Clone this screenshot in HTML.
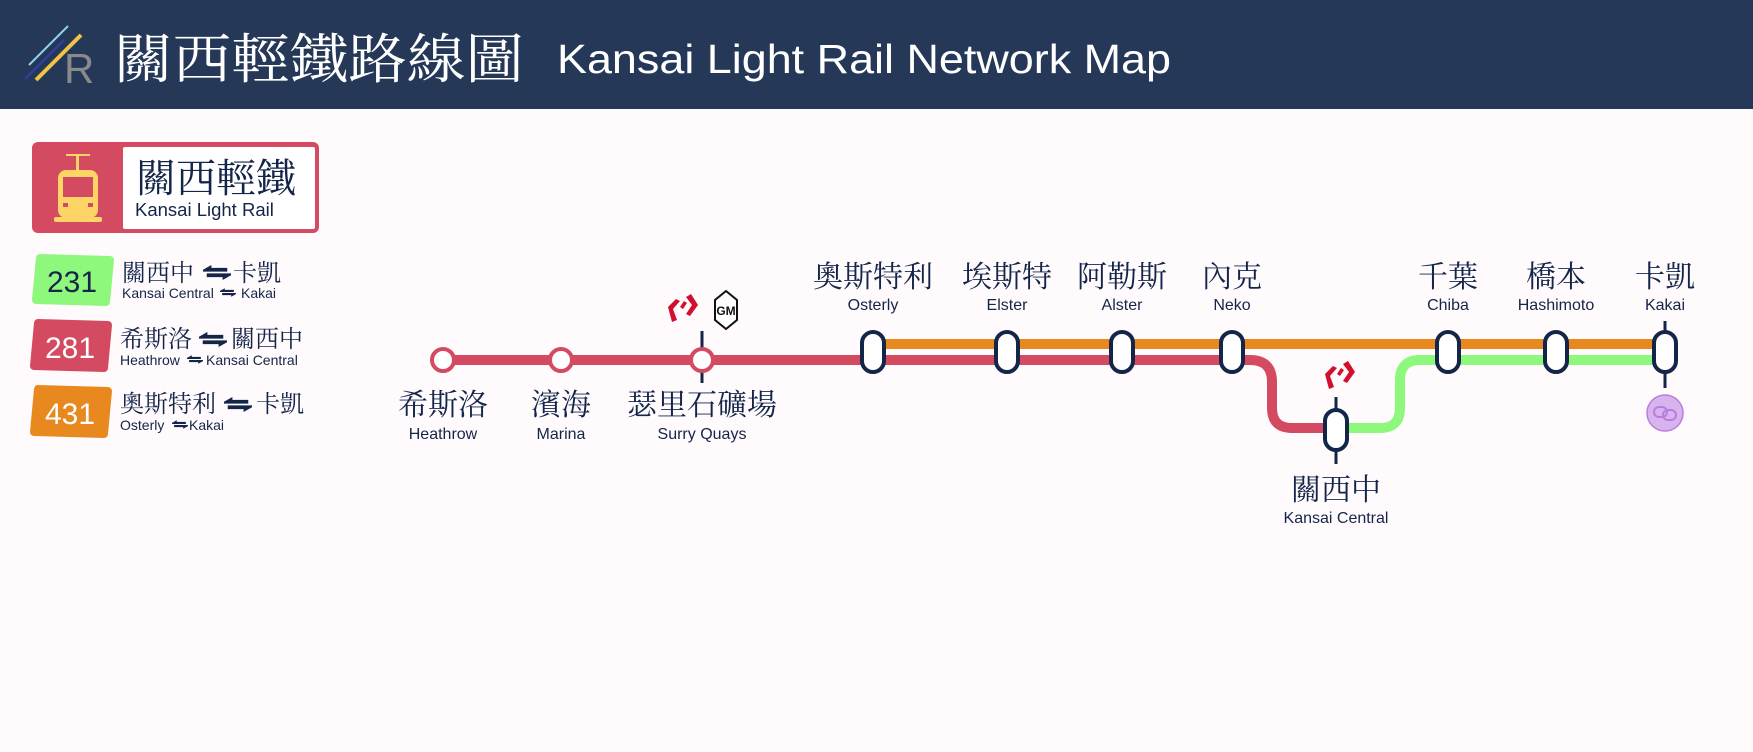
<!DOCTYPE html>
<html><head><meta charset="utf-8"><style>
html,body{margin:0;padding:0;background:#fffafc;}
svg{display:block}
.zh{font-family:"Noto Serif CJK SC","Liberation Serif",serif;fill:#14254a}
.en{font-family:"Liberation Sans",sans-serif;fill:#14254a}
</style></head><body>
<svg width="1753" height="752" viewBox="0 0 1753 752" xmlns="http://www.w3.org/2000/svg">
<rect width="1753" height="752" fill="#fffafc"/>
<rect width="1753" height="109" fill="#253858"/>
<!-- logo -->
<line x1="29" y1="65" x2="68" y2="26" stroke="#8fd0f0" stroke-width="2"/>
<line x1="25" y1="79" x2="64" y2="40" stroke="#2f3fa8" stroke-width="2"/>
<line x1="36" y1="80" x2="81" y2="35" stroke="#f2c443" stroke-width="4"/>
<text x="64" y="83" font-family="Liberation Sans,sans-serif" font-size="42" fill="#8a8a8a">R</text>
<text x="114" y="78" class="zh" font-size="54" textLength="410" lengthAdjust="spacingAndGlyphs" style="fill:#fff">關西輕鐵路線圖</text>
<text x="557" y="73" font-family="Liberation Sans,sans-serif" font-size="41" textLength="614" lengthAdjust="spacingAndGlyphs" fill="#fff">Kansai Light Rail Network Map</text>

<!-- badge -->
<rect x="32" y="142" width="287" height="91" rx="6" fill="#d44a60"/>
<rect x="123" y="147" width="192" height="82" rx="2" fill="#fff"/>
<g fill="#fdd567">
<rect x="58" y="170" width="40" height="48" rx="8"/>
<rect x="76" y="156" width="3" height="14"/>
<rect x="66" y="154" width="24" height="2"/>
<rect x="54" y="217" width="48" height="5" rx="2"/>
</g>
<rect x="63" y="177" width="30" height="20" fill="#d44a60"/>
<rect x="63" y="203" width="5" height="4" fill="#d44a60"/><rect x="88" y="203" width="5" height="4" fill="#d44a60"/>
<text x="136" y="192" class="zh" font-size="40">關西輕鐵</text>
<text x="135" y="216" class="en" font-size="18.5">Kansai Light Rail</text>

<!-- route list -->
<defs>
<symbol id="arr" viewBox="0 0 30 16"><path d="M0 5 L9 0 L9 3 L26 3 L26 7 L0 7 Z M30 11 L21 16 L21 13 L4 13 L4 9 L30 9 Z" fill="#14254a"/></symbol>
</defs>
<path d="M40 258 L110 260 L106 302 L36 300 Z" fill="#8ef87c" stroke="#8ef87c" stroke-width="8" stroke-linejoin="round"/>
<text x="72" y="292" text-anchor="middle" class="en" font-size="30">231</text>
<text x="122" y="281" class="zh" font-size="24">關西中</text>
<use href="#arr" x="203" y="265" width="28" height="15"/>
<text x="233" y="281" class="zh" font-size="24">卡凱</text>
<text x="122" y="298" class="en" font-size="14">Kansai Central</text>
<use href="#arr" x="220" y="288" width="16" height="9"/>
<text x="241" y="298" class="en" font-size="14">Kakai</text>

<path d="M38 323 L108 325 L104 368 L34 366 Z" fill="#d44a60" stroke="#d44a60" stroke-width="8" stroke-linejoin="round"/>
<text x="70" y="358" text-anchor="middle" class="en" font-size="30" style="fill:#fff">281</text>
<text x="120" y="347" class="zh" font-size="24">希斯洛</text>
<use href="#arr" x="199" y="332" width="28" height="15"/>
<text x="231" y="347" class="zh" font-size="24">關西中</text>
<text x="120" y="365" class="en" font-size="14">Heathrow</text>
<use href="#arr" x="187" y="355" width="16" height="9"/>
<text x="206" y="365" class="en" font-size="14">Kansai Central</text>

<path d="M38 389 L108 391 L104 434 L34 432 Z" fill="#e8891f" stroke="#e8891f" stroke-width="8" stroke-linejoin="round"/>
<text x="70" y="424" text-anchor="middle" class="en" font-size="30" style="fill:#fff">431</text>
<text x="120" y="412" class="zh" font-size="24">奧斯特利</text>
<use href="#arr" x="224" y="397" width="28" height="15"/>
<text x="256" y="412" class="zh" font-size="24">卡凱</text>
<text x="120" y="430" class="en" font-size="14">Osterly</text>
<use href="#arr" x="172" y="420" width="16" height="9"/>
<text x="189" y="430" class="en" font-size="14">Kakai</text>

<!-- lines -->
<line x1="873" y1="344" x2="1665" y2="344" stroke="#e8891f" stroke-width="10"/>
<path d="M1665 360 L1420 360 Q1400 360 1400 380 L1400 408 Q1400 428 1380 428 L1336 428" fill="none" stroke="#8ef87c" stroke-width="10"/>
<path d="M443 360 L1250 360 Q1272 360 1272 382 L1272 408 Q1272 428 1292 428 L1336 428" fill="none" stroke="#d44a60" stroke-width="10"/>

<!-- ticks -->
<line x1="702" y1="331" x2="702" y2="383" stroke="#14254a" stroke-width="3"/>
<line x1="1336" y1="397" x2="1336" y2="464" stroke="#14254a" stroke-width="3"/>
<line x1="1665" y1="321" x2="1665" y2="388" stroke="#14254a" stroke-width="3"/>

<!-- circle stations -->
<g fill="#fff" stroke="#d44a60" stroke-width="4">
<circle cx="443" cy="360" r="11"/><circle cx="561" cy="360" r="11"/><circle cx="702" cy="360" r="11"/>
</g>
<!-- pill stations -->
<g fill="#fff" stroke="#14254a" stroke-width="4">
<rect x="862" y="332" width="22" height="40" rx="11"/>
<rect x="996" y="332" width="22" height="40" rx="11"/>
<rect x="1111" y="332" width="22" height="40" rx="11"/>
<rect x="1221" y="332" width="22" height="40" rx="11"/>
<rect x="1437" y="332" width="22" height="40" rx="11"/>
<rect x="1545" y="332" width="22" height="40" rx="11"/>
<rect x="1654" y="332" width="22" height="40" rx="11"/>
<rect x="1325" y="410" width="22" height="40" rx="11"/>
</g>

<!-- purple -->
<circle cx="1665" cy="413" r="18" fill="#d9b3ee" stroke="#b77ee0" stroke-width="1.5"/>
<g fill="none" stroke="#b77ee0" stroke-width="2"><rect x="1654" y="407" width="13" height="10" rx="5"/><rect x="1663" y="410" width="13" height="10" rx="5"/></g>

<!-- rail icons -->
<g fill="#d0102e">
<path d="M668 307 L676 299 L680 301 L673 309 L677 320 L672 322 Z"/>
<path d="M680 307 L684 301 L687 303 L683 309 Z"/>
<path d="M686 297 L691 294 L698 305 L690 316 L686 314 L692 305 Z"/>
<path d="M1325 374 L1333 366 L1337 368 L1330 376 L1334 387 L1329 389 Z"/>
<path d="M1337 374 L1341 368 L1344 370 L1340 376 Z"/>
<path d="M1343 364 L1348 361 L1355 372 L1347 383 L1343 381 L1349 372 Z"/>
</g>
<polygon points="726,291 737,300 737,320 726,329 715,320 715,300" fill="#fff" stroke="#111" stroke-width="2"/>
<text x="726" y="315" text-anchor="middle" font-family="Liberation Sans,sans-serif" font-size="12" font-weight="bold" fill="#111">GM</text>

<!-- labels -->
<g text-anchor="middle">
<text x="443" y="415" class="zh" font-size="30">希斯洛</text><text x="443" y="439" class="en" font-size="16">Heathrow</text>
<text x="561" y="415" class="zh" font-size="30">濱海</text><text x="561" y="439" class="en" font-size="16">Marina</text>
<text x="702" y="415" class="zh" font-size="30">瑟里石礦場</text><text x="702" y="439" class="en" font-size="16">Surry Quays</text>
<text x="873" y="287" class="zh" font-size="30">奧斯特利</text><text x="873" y="310" class="en" font-size="16">Osterly</text>
<text x="1007" y="287" class="zh" font-size="30">埃斯特</text><text x="1007" y="310" class="en" font-size="16">Elster</text>
<text x="1122" y="287" class="zh" font-size="30">阿勒斯</text><text x="1122" y="310" class="en" font-size="16">Alster</text>
<text x="1232" y="287" class="zh" font-size="30">內克</text><text x="1232" y="310" class="en" font-size="16">Neko</text>
<text x="1448" y="287" class="zh" font-size="30">千葉</text><text x="1448" y="310" class="en" font-size="16">Chiba</text>
<text x="1556" y="287" class="zh" font-size="30">橋本</text><text x="1556" y="310" class="en" font-size="16">Hashimoto</text>
<text x="1665" y="287" class="zh" font-size="30">卡凱</text><text x="1665" y="310" class="en" font-size="16">Kakai</text>
<text x="1336" y="500" class="zh" font-size="30">關西中</text><text x="1336" y="523" class="en" font-size="16">Kansai Central</text>
</g>
</svg>
</body></html>
